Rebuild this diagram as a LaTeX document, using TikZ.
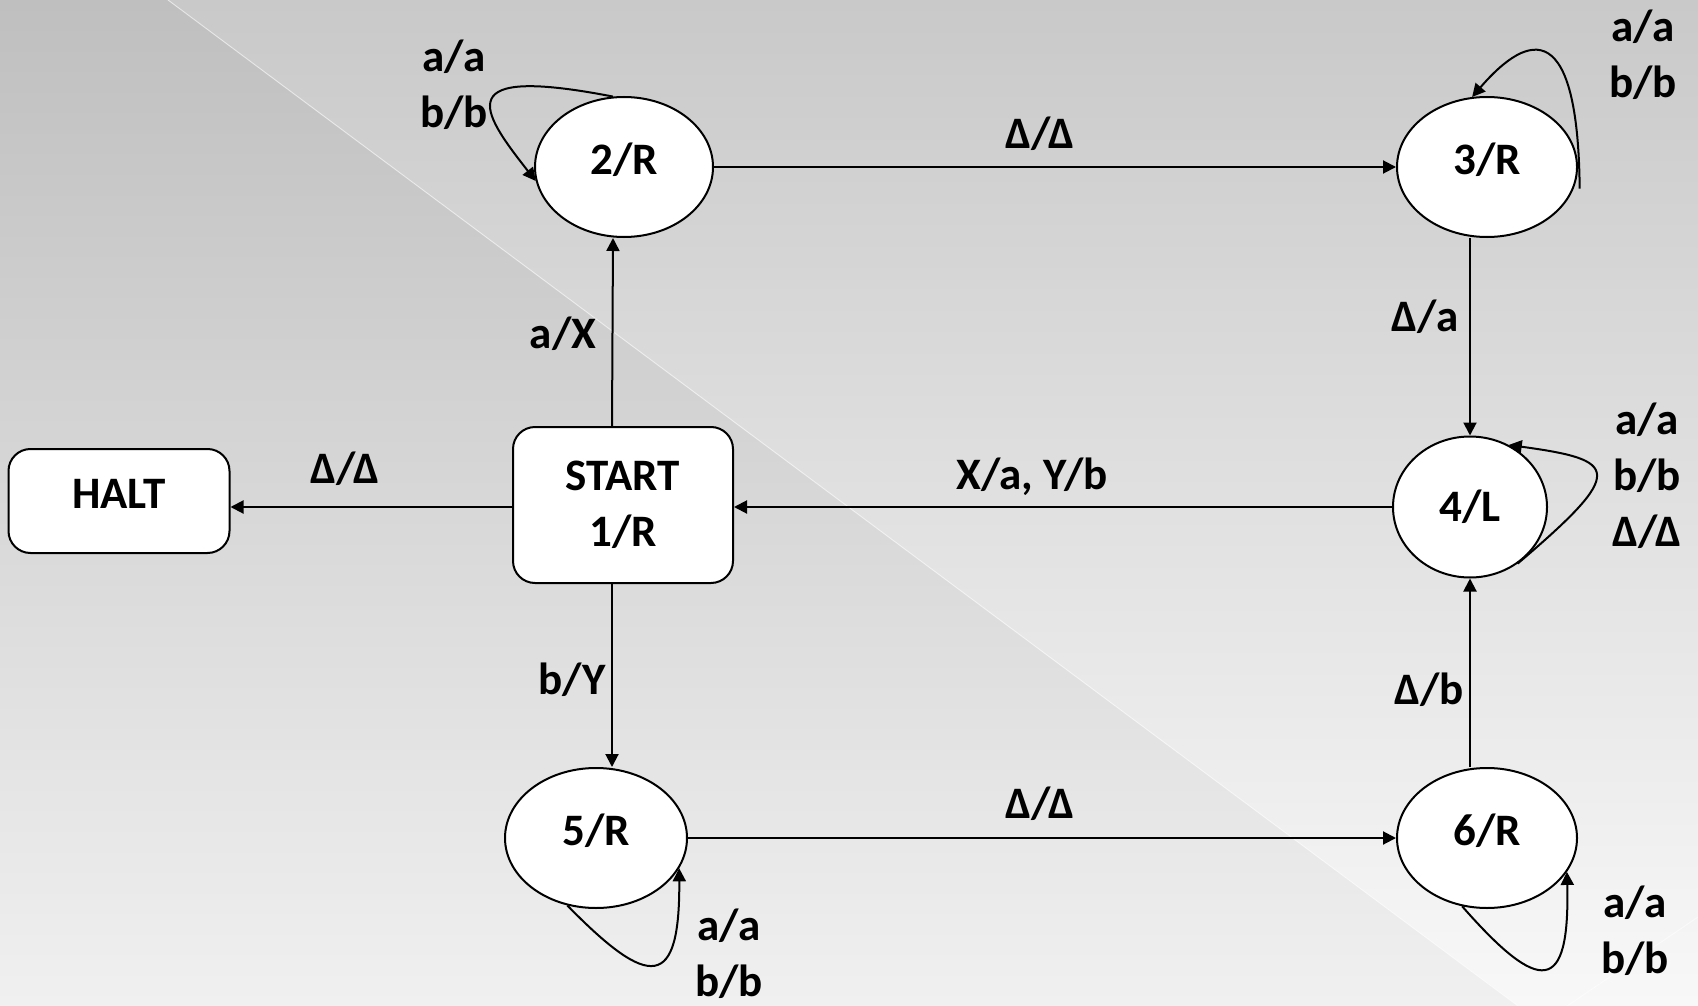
\documentclass[tikz,border=0pt]{standalone}
\usepackage{fontspec}
\setmainfont{Carlito}
\usetikzlibrary{arrows.meta,shapes.geometric}
\definecolor{ltop}{HTML}{BFBFBF}
\definecolor{lmid}{HTML}{DADADA}
\definecolor{lbot}{HTML}{F0F0F0}
\definecolor{rtop}{HTML}{C9C9C9}
\definecolor{rmid}{HTML}{E6E6E6}
\definecolor{rbot}{HTML}{F8F8F8}

\begin{document}
\begin{tikzpicture}[x=1pt,y=-1pt,>={Triangle[length=13pt,width=13pt]},line width=2pt,
  font=\fontsize{45}{56}\selectfont\bfseries,
  state/.style={ellipse,draw,fill=white,minimum width=178pt,minimum height=140pt,inner sep=0pt,
    text height=35pt,text depth=20pt},
  box/.style={rectangle,rounded corners=22pt,draw,fill=white,inner sep=0pt,align=center},
  lab/.style={align=center,inner sep=0pt}]
\useasboundingbox (0,0) rectangle (1698,1006);
\shade[top color=ltop,middle color=lmid,bottom color=lbot] (0,0) -- (168,0) -- (1518,1006) -- (0,1006) -- cycle;
\shade[top color=rtop,middle color=rmid,bottom color=rbot] (168,0) -- (1698,0) -- (1698,1006) -- (1518,1006) -- cycle;
\draw[white,opacity=.5,line width=1pt] (168,0) -- (1518,1006) (1567,1006) -- (1698,917);
% states
\node[box,minimum width=220pt,minimum height=156pt] (start) at (623,505) {START\\1/R};
\node[box,minimum width=221pt,minimum height=104pt,text depth=14pt] (halt) at (119,501) {HALT};
\node[state] (s2) at (624,167) {2/R};
\node[state,minimum width=180pt] (s3) at (1487,167) {3/R};
\node[state,minimum width=154pt,minimum height=141pt,text depth=6pt] (s4) at (1470,507) {4/L};
\node[state,minimum width=182pt] (s5) at (596,838) {5/R};
\node[state,minimum width=180pt] (s6) at (1487,838) {6/R};
% transitions
\draw[->] ([xshift=-11pt]start.north) -- ([xshift=-11pt]s2.south);
\draw[->] ([xshift=-11pt]start.south) -- ([xshift=-11pt]start.south |- s5.north);
\draw[->] (s4.west -| start.west) -- (s4.west -| halt.east);
\draw[->] (s2) -- (s3);
\draw[->] (s4.north |- s3.south) -- (s4.north);
\draw[->] (s4) -- (s4 -| start.east);
\draw[->] (s4.south |- s6.north) -- (s4.south);
\draw[->] (s5) -- (s6);
% self loops
\draw[->] (s2.99) .. controls (450,65) and (480,110) .. (s2.189);
\draw[->] ([xshift=6pt]s3.-14) .. controls (1578,20) and (1530,30) .. (s3.102);
\draw[->] (s4.-50) .. controls (1628,470) and (1618,460) .. (s4.58);
\draw[->] (s5.-113) .. controls (650,990) and (680,990) .. (s5.-20);
\draw[->] (s6.-110) .. controls (1540,995) and (1570,995) .. (s6.-23);
% labels
\node[lab] (l23) at (1040,134) {Δ/Δ};
\node[lab] (l12) at (563,334) {a/X};
\node[lab] (l15) at (572,680) {b/Y};
\node[lab] (l1h) at (345,469) {Δ/Δ};
\node[lab] (l41) at (1032,477) {X/a, Y/b};
\node[lab] (l34) at (1425,317) {Δ/a};
\node[lab] (l64) at (1429,690) {Δ/b};
\node[lab] (l56) at (1040,804) {Δ/Δ};
\node[lab] (l22) at (454,85) {a/a\\b/b};
\node[lab] (l33) at (1643,55) {a/a\\b/b};
\node[lab] (l44) at (1647,476) {a/a\\b/b\\Δ/Δ};
\node[lab] (l55) at (729,954) {a/a\\b/b};
\node[lab] (l66) at (1635,931) {a/a\\b/b};
\end{tikzpicture}
\end{document}
